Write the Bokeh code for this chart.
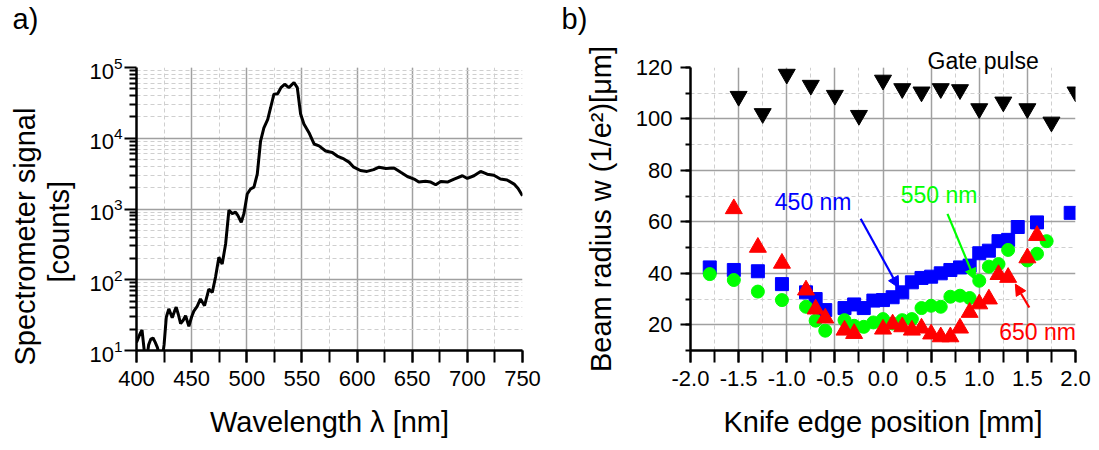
import math
from bokeh.plotting import figure
from bokeh.layouts import row
from bokeh.models import (SingleIntervalTicker, FixedTicker, NumeralTickFormatter,
                          Label, Arrow, NormalHead, Range1d, Title)
from bokeh.embed import file_html
from bokeh.resources import INLINE

FONT = "Liberation Sans"

# ---------------- panel a) spectrum ----------------
wavelength_nm = [400, 403, 405, 407, 409, 411, 413, 415, 417, 419, 421, 423, 425, 427,
                 429.3, 432.4, 434.5, 436, 438, 440, 442.5, 444.5, 447.5, 450, 452, 455,
                 458, 461.7, 465.6, 468.7, 471.7, 474.7, 477.7, 480.8, 483.8, 486.8,
                 489.8, 492, 495, 497.4, 500.4, 503.4, 506.5, 509.5, 512.5, 515.5, 519,
                 521.6, 524.6, 528, 531, 534.3, 538.2, 542.8, 545.8, 548.8, 551.8, 556.4,
                 561, 565.5, 571.5, 577.5, 582, 588, 592.7, 597, 603, 609, 615, 620, 626,
                 633.5, 639.6, 645.6, 651.7, 656, 662, 666.8, 671.3, 675.9, 681.9, 688,
                 695.5, 700, 706, 712, 718, 724, 730, 736, 742.4, 746, 750]
signal_counts = [13, 17, 19.6, 10, 7, 12, 14.5, 15, 13, 11, 8, 7, 12, 29.5,
                 38.8, 29, 36, 41, 32, 24, 27, 31, 22, 30, 36, 42,
                 53.5, 43, 74, 66, 110, 208, 167, 320, 960, 860,
                 900, 806, 650, 860, 1630, 1920, 2040, 3100, 9100, 14000, 18500,
                 27000, 42000, 42600, 52000, 58000, 52000, 61500, 52000, 22000, 15900, 12000,
                 8300, 7800, 6600, 6300, 5600, 5100, 4600, 3900, 3500, 3400, 3600, 3900, 3740,
                 3800, 3300, 2880, 2650, 2400, 2460, 2400, 2200, 2450, 2400, 2650,
                 2950, 2700, 2950, 3400, 3100, 3000, 2650, 2570, 2250, 1950, 1540]

log_major = [10, 100, 1000, 10000, 100000]
log_minor = [m * 10 ** e for e in range(1, 5) for m in range(2, 10)]

# ---------------- panel b) knife edge ----------------
x_gate = [-1.5, -1.25, -1.0, -0.75, -0.5, -0.25, 0.0, 0.2, 0.4, 0.6, 0.8, 1.0, 1.25, 1.5, 1.75, 2.0]
w_gate = [108.8, 102.1, 117.4, 113.1, 109.2, 101.4, 115.1, 111.8, 110.5, 111.8, 111.4,
          104.0, 106.6, 104.0, 98.8, 110.5]

x_450 = [-1.8, -1.55, -1.3, -1.05, -0.8, -0.7, -0.6, -0.4, -0.3, -0.2, -0.1, 0.0, 0.1, 0.2,
         0.3, 0.4, 0.5, 0.6, 0.7, 0.8, 0.9, 1.0, 1.1, 1.2, 1.3, 1.4, 1.6, 1.95]
w_450 = [42.3, 41.3, 40.8, 35.8, 32.6, 30.0, 25.7, 26.5, 27.9, 26.5, 29.4, 29.6, 30.7, 32.6,
         36.5, 38.2, 38.7, 40.0, 41.3, 42.3, 43.0, 47.8, 48.8, 52.5, 53.0, 58.0, 59.8, 63.5]

x_550 = [-1.8, -1.55, -1.3, -1.05, -0.8, -0.7, -0.6, -0.4, -0.3, -0.2, -0.1, 0.0, 0.1, 0.2,
         0.3, 0.4, 0.5, 0.6, 0.7, 0.8, 0.9, 1.0, 1.1, 1.2, 1.3, 1.5, 1.6, 1.7]
w_550 = [39.7, 37.4, 32.9, 29.6, 27.0, 21.6, 17.7, 21.8, 19.6, 19.2, 20.9, 22.2, 20.5, 21.8,
         22.2, 26.5, 27.4, 27.0, 30.9, 31.3, 30.4, 37.1, 42.6, 43.6, 49.1, 45.0, 47.6, 52.5]

x_650 = [-1.55, -1.3, -1.05, -0.8, -0.7, -0.6, -0.4, -0.3, 0.0, 0.1, 0.2, 0.3, 0.4, 0.5,
         0.6, 0.7, 0.8, 0.9, 1.0, 1.1, 1.2, 1.3, 1.5, 1.6]
w_650 = [65.1, 50.1, 43.9, 33.5, 26.1, 22.6, 17.9, 16.6, 18.3, 20.3, 19.2, 17.9, 18.7, 16.4,
         15.3, 15.3, 18.7, 24.8, 28.1, 30.0, 39.5, 38.4, 46.0, 54.7]


def style(p, y_minor_out):
    p.outline_line_color = None
    p.background_fill_color = "white"
    p.border_fill_color = "white"
    for ax in (p.xaxis[0], p.yaxis[0]):
        ax.axis_line_width = 2.5
        ax.axis_line_color = "black"
        ax.major_tick_line_width = 2
        ax.minor_tick_line_width = 2
        ax.major_tick_line_color = "black"
        ax.minor_tick_line_color = "black"
        ax.major_tick_in = 0
        ax.minor_tick_in = 0
        ax.major_label_text_font = FONT
        ax.major_label_text_font_size = "22px"
        ax.major_label_text_color = "black"
        ax.axis_label_text_font = FONT
        ax.axis_label_text_font_size = "29px"
        ax.axis_label_text_font_style = "normal"
        ax.axis_label_text_color = "black"
    p.xaxis[0].major_tick_out = 12
    p.xaxis[0].minor_tick_out = 12
    p.xaxis[0].major_label_standoff = 8
    p.xaxis[0].axis_label_standoff = 17
    p.yaxis[0].major_tick_out = 12
    p.yaxis[0].minor_tick_out = y_minor_out
    p.yaxis[0].major_label_standoff = 2
    for g in (p.xgrid[0], p.ygrid[0]):
        g.grid_line_color = "#a0a0a0"
        g.grid_line_width = 1.5
        g.minor_grid_line_color = "#cfcfcf"
        g.minor_grid_line_width = 1
        g.minor_grid_line_dash = "4 3"


def title_style(t, size):
    t.text_font = FONT
    t.text_font_size = size
    t.text_font_style = "normal"
    t.text_color = "black"


def arrow(p, xs, ys, xe, ye, color):
    p.add_layout(Arrow(x_start=xs, y_start=ys, x_end=xe, y_end=ye,
                       line_color=color, line_width=2.2,
                       end=NormalHead(size=11, fill_color=color, line_color=color,
                                      line_width=1)))


# ---- left figure
p1 = figure(width=560, height=450, frame_width=386, frame_height=283,
            min_border_left=136, min_border_right=38, min_border_top=67, min_border_bottom=100,
            y_axis_type="log", x_range=Range1d(400, 750), y_range=Range1d(10, 100000),
            output_backend="svg", toolbar_location=None)
p1.xaxis[0].ticker = SingleIntervalTicker(interval=50, num_minor_ticks=2)
p1.yaxis[0].ticker = FixedTicker(ticks=log_major, minor_ticks=log_minor)
p1.xaxis[0].axis_label = "Wavelength λ [nm]"
style(p1, 7)
p1.line(wavelength_nm, signal_counts, line_color="black", line_width=3)

# panel letter: second (empty) line keeps it up in the top-left corner
p1.title.text = "a)\n"
p1.title.align = "left"
p1.title.offset = -124
p1.title.vertical_align = "top"
p1.title.standoff = -3
title_style(p1.title, "29px")

t_counts = Title(text="[counts]", align="left", offset=68, vertical_align="bottom", standoff=24)
title_style(t_counts, "29px")
p1.add_layout(t_counts, "left")
t_spec = Title(text="Spectrometer signal", align="left", offset=-15, vertical_align="bottom",
               standoff=-24)
title_style(t_spec, "29px")
p1.add_layout(t_spec, "left")

# ---- right figure
p2 = figure(width=539, height=450, frame_width=385, frame_height=283,
            min_border_left=130, min_border_right=24, min_border_top=67, min_border_bottom=100,
            x_range=Range1d(-2, 2), y_range=Range1d(10, 120),
            output_backend="svg", toolbar_location=None)
p2.xaxis[0].ticker = SingleIntervalTicker(interval=0.5, num_minor_ticks=2)
p2.xaxis[0].formatter = NumeralTickFormatter(format="0.0")
p2.yaxis[0].ticker = SingleIntervalTicker(interval=20, num_minor_ticks=2)
p2.xaxis[0].axis_label = "Knife edge position [mm]"
p2.yaxis[0].axis_label = "Beam radius w (1/e²)[μm]"
style(p2, 5)
p2.yaxis[0].major_tick_out = 10
p2.yaxis[0].major_label_standoff = 8
p2.yaxis[0].axis_label_standoff = 16

p2.scatter(x_450, w_450, marker="square", size=13, fill_color="#0000ff", line_color="#0000ff")
p2.scatter(x_550, w_550, marker="circle", size=13, fill_color="#00ff00", line_color="#00ff00")
p2.scatter(x_650, w_650, marker="triangle", size=17, fill_color="#ff0000", line_color="#ff0000")
p2.scatter(x_gate, w_gate, marker="inverted_triangle", size=17, fill_color="black",
           line_color="black")

arrow(p2, -0.232, 61.2, 0.163, 34.4, "#0000ff")
arrow(p2, 0.67, 63.1, 0.955, 37.5, "#00ff00")
arrow(p2, 1.52, 26.7, 1.375, 35.8, "#ff0000")

p2.add_layout(Label(x=-1.124, y=67.6, text="450 nm", text_font=FONT, text_font_size="23px",
                    text_color="#0000ff", text_baseline="alphabetic"))
p2.add_layout(Label(x=0.184, y=70.6, text="550 nm", text_font=FONT, text_font_size="23px",
                    text_color="#00ff00", text_baseline="alphabetic"))
p2.add_layout(Label(x=1.207, y=17.0, text="650 nm", text_font=FONT, text_font_size="23px",
                    text_color="#ff0000", text_baseline="alphabetic"))

t_gate = Title(text="Gate pulse", align="left", offset=237, vertical_align="bottom", standoff=-12)
title_style(t_gate, "23px")
p2.add_layout(t_gate, "above")

p2.title.text = "b)\n"
p2.title.align = "left"
p2.title.offset = -129
p2.title.vertical_align = "top"
p2.title.standoff = 0
p2.title.text_line_height = 0.47
title_style(p2.title, "29px")

layout = row(p1, p2)
open("out.html", "w").write(file_html(layout, INLINE))
